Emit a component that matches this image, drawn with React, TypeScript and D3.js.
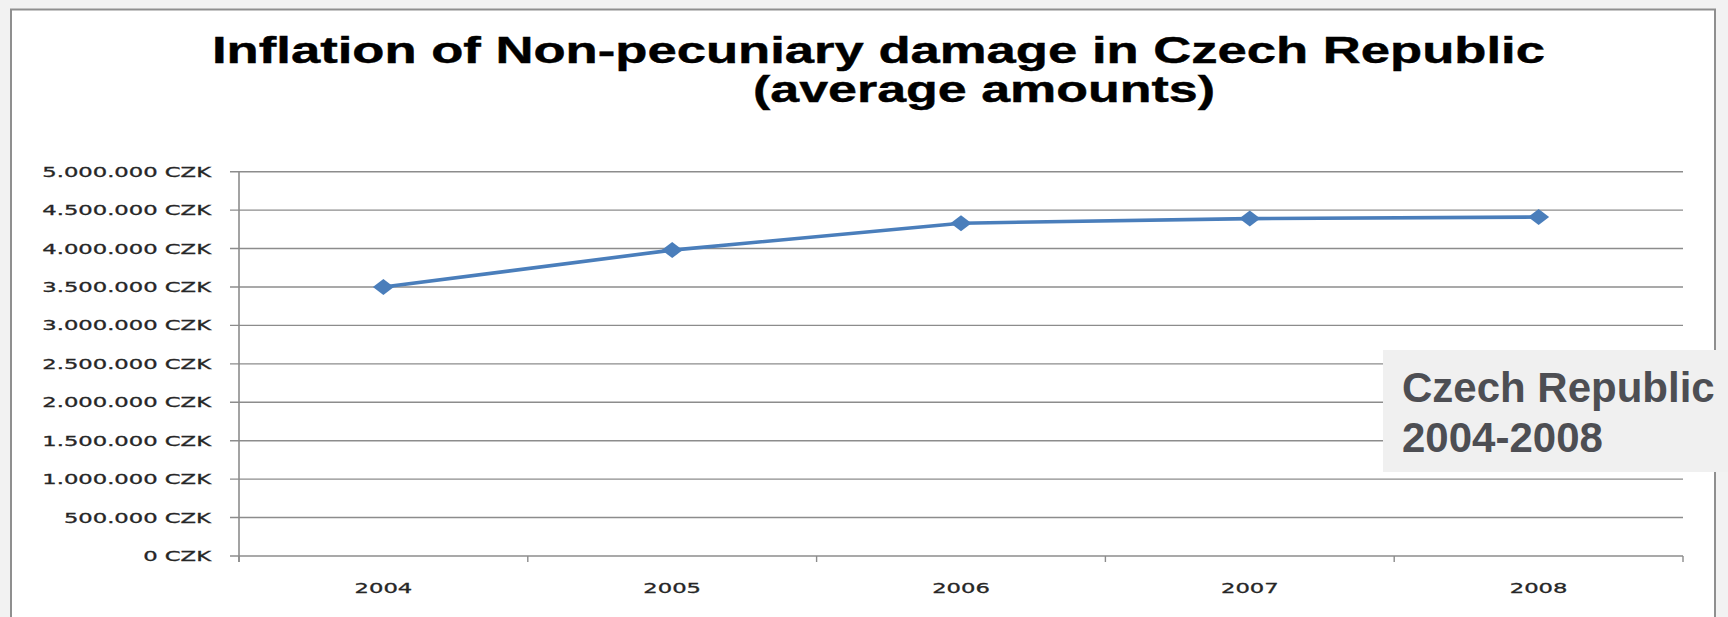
import React from "react";
import * as d3 from "d3";

// Chart data
const years = ["2004", "2005", "2006", "2007", "2008"];
const amounts = [3500000, 3980000, 4330000, 4390000, 4410000];
const yTicks = [0, 500000, 1000000, 1500000, 2000000, 2500000, 3000000, 3500000, 4000000, 4500000, 5000000];
const titleLines = ["Inflation of Non-pecuniary damage in Czech Republic", "(average amounts)"];
const noteLines = ["Czech Republic", "2004-2008"];

const W = 1728;
const H = 617;

const czk = d3.formatLocale({ decimal: ",", thousands: ".", grouping: [3], currency: ["", " CZK"] });
const fmt = (v: number) => czk.format(",.0f")(v) + " CZK";

export default function App() {
  const plotLeft = 239;
  const plotRight = 1683;
  const plotTop = 171.7;
  const plotBottom = 556;

  const x = d3.scaleBand<string>().domain(years).range([plotLeft, plotRight]);
  const y = d3.scaleLinear().domain([0, 5000000]).range([plotBottom, plotTop]);

  const line = d3
    .line<number>()
    .x((_, i) => (x(years[i]) as number) + x.bandwidth() / 2)
    .y((d) => y(d));

  const grid = "#8c8c8c";
  const labelFont = "'DejaVu Sans', Verdana, sans-serif";
  const sx = 1.62;
  const boundaries = d3.range(years.length + 1).map((i) => plotLeft + i * x.bandwidth());

  return (
    <svg
      width={W}
      height={H}
      style={{ position: "absolute", left: 0, top: 0, display: "block" }}
    >
      <rect x={0} y={0} width={W} height={H} fill="#f2f2f2" />
      <rect x={11} y={9.5} width={1704} height={H + 20} fill="#ffffff" stroke="#8f8f8f" strokeWidth={2} />

      {/* title */}
      <text
        x={212}
        y={63}
        textLength={1333}
        lengthAdjust="spacingAndGlyphs"
        fontFamily="'Liberation Sans', Arial, sans-serif"
        fontWeight="bold"
        fontSize={36}
        fill="#000"
        stroke="#000"
        strokeWidth={0.4}
      >
        {titleLines[0]}
      </text>
      <text
        x={753}
        y={102}
        textLength={462}
        lengthAdjust="spacingAndGlyphs"
        fontFamily="'Liberation Sans', Arial, sans-serif"
        fontWeight="bold"
        fontSize={36}
        fill="#000"
        stroke="#000"
        strokeWidth={0.4}
      >
        {titleLines[1]}
      </text>

      {/* horizontal gridlines and y labels */}
      {yTicks.map((t) => (
        <g key={t}>
          <line x1={230} x2={plotRight} y1={y(t)} y2={y(t)} stroke={grid} strokeWidth={1.4} />
          <text
            transform={`translate(211,${y(t) + 5}) scale(${sx},1)`}
            textAnchor="end"
            fontFamily={labelFont}
            fontSize={14}
            fill="#262626"
            stroke="#262626"
            strokeWidth={0.3}
          >
            {fmt(t)}
          </text>
        </g>
      ))}

      {/* axes */}
      <line x1={plotLeft} x2={plotLeft} y1={plotTop} y2={plotBottom + 6} stroke={grid} strokeWidth={1.6} />
      {boundaries.map((bx, i) => (
        <line key={i} x1={bx} x2={bx} y1={plotBottom} y2={plotBottom + 6} stroke={grid} strokeWidth={1.4} />
      ))}
      {years.map((yr) => (
        <text
          key={yr}
          transform={`translate(${(x(yr) as number) + x.bandwidth() / 2},593) scale(${sx},1)`}
          textAnchor="middle"
          fontFamily={labelFont}
          fontSize={14}
          fill="#262626"
          stroke="#262626"
          strokeWidth={0.3}
        >
          {yr}
        </text>
      ))}

      {/* series */}
      <path d={line(amounts) || ""} fill="none" stroke="#4a7ebb" strokeWidth={3.6} strokeLinejoin="round" />
      {amounts.map((v, i) => (
        <path
          key={i}
          transform={`translate(${(x(years[i]) as number) + x.bandwidth() / 2},${y(v)})`}
          d="M0,-8L10.5,0L0,8L-10.5,0Z"
          fill="#4a7ebb"
        />
      ))}

      {/* note box */}
      <rect x={1383} y={350} width={W - 1383} height={122} fill="#f0f0f0" />
      {noteLines.map((t, i) => (
        <text
          key={t}
          x={1402}
          y={401.5 + i * 50}
          fontFamily="'Liberation Sans', Arial, sans-serif"
          fontWeight="bold"
          fontSize={42}
          fill="#4d4e53"
        >
          {t}
        </text>
      ))}
    </svg>
  );
}
